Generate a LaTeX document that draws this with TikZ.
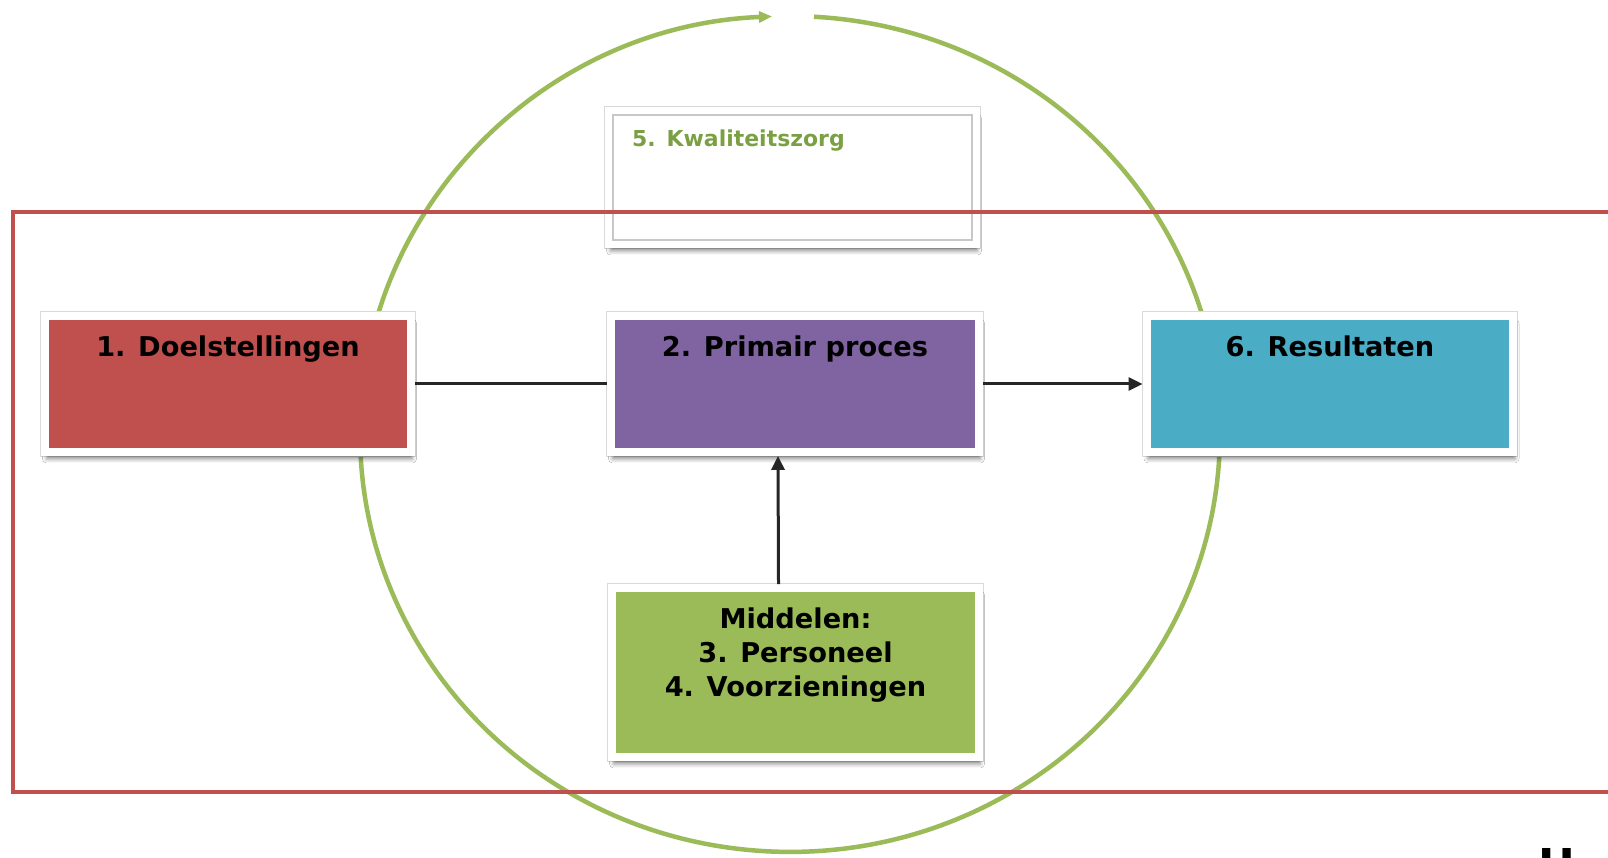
\documentclass[tikz,border=0pt]{standalone}
\usepackage{fontspec}
\setmainfont{DejaVu Sans}
\usetikzlibrary{arrows.meta,shadows.blur}
\definecolor{doelrood}{HTML}{C0504D}
\definecolor{procespaars}{HTML}{8064A2}
\definecolor{resultblauw}{HTML}{4BACC6}
\definecolor{middelgroen}{HTML}{9BBB59}
\definecolor{zorggroen}{HTML}{7BA043}
\begin{document}
\begin{tikzpicture}[x=0.02cm,y=0.02cm,
  blok/.style={rectangle, draw=white, line width=0.16cm, inner sep=0,
    preaction={draw=black!15, line width=0.19cm},
    blur shadow={shadow xshift=0.03cm, shadow yshift=-0.14cm, shadow blur radius=0.08cm, shadow opacity=45},
    font=\fontsize{15.5}{19.6}\selectfont\bfseries},
  kop/.style={blok, text height=0.82cm, text depth=1.9cm, minimum width=7.34cm},
  lijn/.style={line width=0.06cm, black!85},
  pijl/.style={lijn, -{Triangle[length=0.28cm,width=0.26cm]}},
  cirkel/.style={line width=0.09cm, middelgroen, -{Triangle[length=0.26cm,width=0.22cm]}},
  kader/.style={line width=0.07cm, doelrood}]
\path[use as bounding box, fill=white] (0,0) rectangle (1608,858);

\draw[cirkel] (790,424) ++(86.8:8.6cm and 8.36cm)
  arc[start angle=86.8, end angle=-267.6, x radius=8.6cm, y radius=8.36cm];

\node[blok, fill=white, text=zorggroen, font=\fontsize{12.5}{15}\selectfont\bfseries,
  text width=6.42cm, align=left, inner xsep=0.46cm, text height=0.72cm, text depth=1.94cm]
  (kwal) at (792.5,680.5) {5. Kwaliteitszorg};
\draw[black!22, line width=0.05cm] ([shift={(0.16cm,-0.16cm)}]kwal.north west)
  rectangle ([shift={(-0.16cm,0.16cm)}]kwal.south east);

\draw[kader] (1620,646) -- (13,646) -- (13,66) -- (1620,66);

\node[kop, fill=doelrood, minimum width=7.32cm] (doel) at (228,474) {1. Doelstellingen};
\node[kop, fill=procespaars, minimum width=7.36cm] (proces) at (795,474) {2. Primair proces};
\node[kop, fill=resultblauw] (result) at (1330,474) {6. Resultaten};
\node[blok, fill=middelgroen, minimum width=7.34cm, align=center, text height=2.18cm, text depth=1.2cm]
  (middelen) at (795.5,185.5) {Middelen:\\3. Personeel\\4. Voorzieningen};

\draw[lijn] (doel) -- (proces);
\draw[pijl] (proces) -- (result);
\draw[pijl] ([xshift=-0.34cm]middelen.north) -- ([xshift=-0.34cm]proces.south);

\node[font=\fontsize{25}{30}\selectfont\bfseries, anchor=north west, inner sep=0] (hdeel) at (1538,10) {H};
\end{tikzpicture}
\end{document}
